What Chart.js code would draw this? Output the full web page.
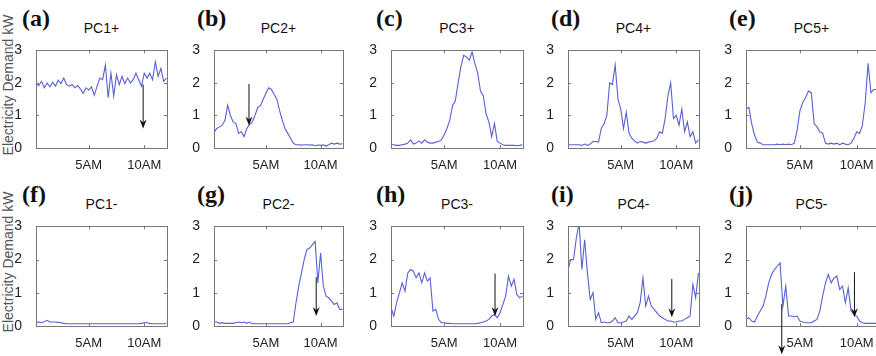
<!DOCTYPE html>
<html>
<head>
<meta charset="utf-8">
<script src="https://cdn.jsdelivr.net/npm/chart.js@4"></script>
<style>
  html, body { margin: 0; padding: 0; background: #fff; }
  body { width: 876px; height: 356px; position: relative; overflow: hidden; font-family: "Liberation Sans", Arial, sans-serif; }
  .panel { position: absolute; }
  .letter { position: absolute; font-family: "Times New Roman", "Liberation Serif", Times, serif; font-weight: 700; font-size: 24px; line-height: 26px; color: #111; }
  .title { position: absolute; font-size: 14px; color: #111; text-align: center; width: 130px; }
  .ylabel { position: absolute; font-size: 14px; color: #555; white-space: nowrap; transform: rotate(-90deg); transform-origin: center center; }
</style>
</head>
<body>
<div class="ylabel" id="ylab1">Electricity Demand kW</div>
<div class="ylabel" id="ylab2">Electricity Demand kW</div>
<script>
// time axis: quarter hours from 0:15 to 12:00
const hours = [];
for (let i = 1; i <= 48; i++) hours.push(i * 0.25);

const xTickValues = [5, 10];
const xTickLabels = ['5AM', '10AM'];
const yTickValues = [0, 1, 2, 3];

const panelLetters = ['(a)', '(b)', '(c)', '(d)', '(e)', '(f)', '(g)', '(h)', '(i)', '(j)'];
const panelTitles = ['PC1+', 'PC2+', 'PC3+', 'PC4+', 'PC5+', 'PC1-', 'PC2-', 'PC3-', 'PC4-', 'PC5-'];

const pc1Plus = [2.0, 1.92, 2.05, 1.85, 2.0, 1.88, 2.02, 1.9, 2.08, 1.98, 2.15, 1.95,
  1.9, 1.95, 1.85, 1.92, 1.82, 1.68, 1.85, 1.78, 1.88, 1.62, 1.9, 2.15,
  2.1, 2.55, 1.55, 2.3, 1.6, 2.25, 1.95, 2.2, 1.98, 2.15, 2.0, 2.1,
  2.3, 2.1, 1.9, 2.3, 2.15, 2.3, 2.1, 2.65, 2.2, 2.45, 2.05, 2.15];
const pc2Plus = [0.47, 0.6, 0.65, 0.7, 0.85, 1.32, 1.0, 0.8, 0.75, 0.45, 0.5, 0.35,
  0.6, 0.72, 0.8, 1.0, 1.25, 1.3, 1.5, 1.68, 1.85, 1.8, 1.65, 1.5,
  1.15, 0.85, 0.6, 0.45, 0.3, 0.15, 0.1, 0.1, 0.09, 0.1, 0.1, 0.09,
  0.1, 0.07, 0.09, 0.08, 0.1, 0.06, 0.1, 0.15, 0.12, 0.15, 0.12, 0.13];
const pc3Plus = [0.1, 0.1, 0.08, 0.08, 0.1, 0.12, 0.15, 0.25, 0.12, 0.15, 0.22, 0.15,
  0.25, 0.18, 0.15, 0.15, 0.18, 0.2, 0.25, 0.4, 0.6, 0.85, 1.3, 1.45,
  2.0, 2.5, 2.85, 2.8, 2.7, 2.95, 2.6, 2.3, 1.75, 1.6, 1.05, 0.8,
  0.35, 0.75, 0.2, 0.15, 0.1, 0.08, 0.08, 0.08, 0.08, 0.07, 0.08, 0.1];
const pc4Plus = [0.1, 0.1, 0.1, 0.1, 0.1, 0.08, 0.12, 0.08, 0.12, 0.2, 0.2, 0.18,
  0.6, 0.75, 1.0, 2.0, 1.95, 2.55, 1.5, 1.2, 0.6, 1.1, 0.45, 0.3,
  0.22, 0.15, 0.2, 0.18, 0.15, 0.18, 0.2, 0.22, 0.3, 0.5, 0.45, 0.9,
  1.6, 2.0, 0.9, 1.0, 0.7, 1.2, 0.5, 0.8, 0.35, 0.5, 0.15, 0.25];
const pc5Plus = [1.2, 1.25, 0.75, 0.4, 0.18, 0.15, 0.1, 0.1, 0.1, 0.1, 0.1, 0.12,
  0.1, 0.12, 0.1, 0.12, 0.1, 0.15, 0.55, 1.15, 1.4, 1.55, 1.75, 1.7,
  0.75, 0.65, 0.5, 0.45, 0.15, 0.12, 0.15, 0.12, 0.15, 0.1, 0.15, 0.12,
  0.1, 0.15, 0.3, 0.5, 0.45, 0.7, 1.4, 2.6, 1.7, 1.8, 1.8, 1.85];
const pc1Minus = [0.11, 0.12, 0.1, 0.13, 0.17, 0.12, 0.12, 0.12, 0.11, 0.1, 0.08, 0.07,
  0.07, 0.07, 0.07, 0.07, 0.07, 0.07, 0.07, 0.07, 0.07, 0.07, 0.07, 0.07,
  0.07, 0.07, 0.07, 0.07, 0.07, 0.07, 0.07, 0.07, 0.07, 0.07, 0.07, 0.07,
  0.07, 0.07, 0.08, 0.1, 0.1, 0.08, 0.07, 0.07, 0.07, 0.07, 0.07, 0.07];
const pc2Minus = [0.12, 0.12, 0.08, 0.1, 0.08, 0.08, 0.08, 0.08, 0.1, 0.12, 0.1, 0.12,
  0.08, 0.12, 0.07, 0.07, 0.07, 0.07, 0.07, 0.07, 0.07, 0.07, 0.07, 0.07,
  0.07, 0.07, 0.07, 0.07, 0.1, 0.12, 0.7, 1.2, 1.6, 2.0, 2.3, 2.35,
  2.45, 2.55, 1.3, 2.2, 1.2, 0.9, 0.85, 0.75, 0.65, 0.7, 0.5, 0.5];
const pc3Minus = [0.55, 0.3, 0.7, 1.0, 1.3, 1.05, 1.6, 1.7, 1.65, 1.45, 1.6, 1.3,
  1.6, 1.35, 1.45, 0.45, 0.5, 0.2, 0.1, 0.1, 0.08, 0.08, 0.07, 0.07,
  0.07, 0.07, 0.07, 0.07, 0.07, 0.07, 0.07, 0.08, 0.1, 0.12, 0.15, 0.2,
  0.3, 0.35, 0.25, 0.4, 0.65, 0.9, 1.5, 1.2, 1.4, 0.95, 0.85, 0.9];
const pc4Minus = [1.7, 2.0, 2.0, 2.65, 3.1, 1.7, 2.6, 1.6, 0.8, 1.0, 0.2, 0.4,
  0.1, 0.12, 0.1, 0.1, 0.15, 0.25, 0.1, 0.1, 0.12, 0.15, 0.3, 0.2,
  0.3, 0.4, 0.7, 1.45, 0.6, 0.9, 0.6, 0.5, 0.4, 0.3, 0.25, 0.2,
  0.15, 0.15, 0.12, 0.12, 0.15, 0.15, 0.2, 0.25, 0.3, 1.25, 0.85, 1.6];
const pc5Minus = [0.2, 0.25, 0.15, 0.12, 0.3, 0.45, 0.6, 0.9, 1.3, 1.55, 1.7, 1.8,
  1.9, 0.6, 1.2, 0.3, 0.3, 0.28, 0.3, 0.15, 0.12, 0.1, 0.1, 0.1,
  0.15, 0.2, 0.45, 0.9, 1.3, 1.55, 1.3, 1.45, 1.5, 1.1, 1.2, 0.7,
  1.15, 0.45, 0.35, 0.3, 0.15, 0.1, 0.08, 0.08, 0.08, 0.08, 0.08, 0.08];

const panelSeries = [pc1Plus, pc2Plus, pc3Plus, pc4Plus, pc5Plus,
  pc1Minus, pc2Minus, pc3Minus, pc4Minus, pc5Minus];

// arrows: [hour, startKW, tipKW] per panel
const panelArrows = [
  [[9.9, 1.95, 0.6]],
  [[3.45, 1.97, 0.69]],
  [], [], [],
  [],
  [[9.6, 1.47, 0.3]],
  [[9.55, 1.58, 0.3]],
  [[9.6, 1.42, 0.26]],
  [[3.4, 0.67, -0.85], [9.8, 1.62, 0.26]]
];

// plot-box geometry (page pixels)
const colLeft = [36, 214, 391, 568, 746];
const colRight = [167, 343, 523, 699, 880];
const rowTop = [42, 218];
const rowBottom = [148, 326];
const letterLeft = [22, 197, 376, 551, 729];

const lineColor = 'rgb(88,96,212)';
const Y_AXIS_W = 22, PAD_TOP = 6, PAD_RIGHT = 6;

const boxPlugin = {
  id: 'matlabBox',
  afterDatasetsDraw(chart) {
    const ctx = chart.ctx, a = chart.chartArea;
    const xs = chart.scales.x, ys = chart.scales.y;
    ctx.save();
    ctx.strokeStyle = '#777';
    ctx.lineWidth = 1;
    ctx.strokeRect(Math.round(a.left) + 0.5, Math.round(a.top) + 0.5,
      Math.round(a.right - a.left), Math.round(a.bottom - a.top));
    ctx.beginPath();
    yTickValues.forEach(v => {
      const py = Math.round(ys.getPixelForValue(v)) + 0.5;
      ctx.moveTo(a.left, py); ctx.lineTo(a.left + 3, py);
      ctx.moveTo(a.right, py); ctx.lineTo(a.right - 3, py);
    });
    xTickValues.forEach(v => {
      const px = Math.round(xs.getPixelForValue(v)) + 0.5;
      ctx.moveTo(px, a.bottom); ctx.lineTo(px, a.bottom - 3);
      ctx.moveTo(px, a.top); ctx.lineTo(px, a.top + 3);
    });
    ctx.stroke();
    // arrows
    const arrows = chart.options.plugins.matlabBox.arrows || [];
    ctx.strokeStyle = '#111';
    ctx.fillStyle = '#111';
    arrows.forEach(([h, y0, y1]) => {
      const px = xs.getPixelForValue(h);
      const p0 = ys.getPixelForValue(y0);
      const p1 = ys.getPixelForValue(y1);
      ctx.beginPath();
      ctx.moveTo(px, p0); ctx.lineTo(px, p1 - 6);
      ctx.stroke();
      ctx.beginPath();
      ctx.moveTo(px, p1);
      ctx.lineTo(px - 3.5, p1 - 9);
      ctx.lineTo(px, p1 - 6);
      ctx.lineTo(px + 3.5, p1 - 9);
      ctx.closePath();
      ctx.fill();
    });
    ctx.restore();
  }
};

function addText(cls, text, left, top) {
  const el = document.createElement('div');
  el.className = cls;
  el.textContent = text;
  el.style.left = left + 'px';
  el.style.top = top + 'px';
  document.body.appendChild(el);
}

function createPanel(idx) {
  const row = Math.floor(idx / 5), col = idx % 5;
  const left = colLeft[col], right = colRight[col];
  const top = rowTop[row], bottom = rowBottom[row];
  const xAxisH = row === 1 ? 34 : 22;

  const wrap = document.createElement('div');
  wrap.className = 'panel';
  const w = (right - left) + Y_AXIS_W + PAD_RIGHT;
  const h = (bottom - top) + PAD_TOP + xAxisH;
  wrap.style.left = (left - Y_AXIS_W) + 'px';
  wrap.style.top = (top - PAD_TOP) + 'px';
  wrap.style.width = w + 'px';
  wrap.style.height = h + 'px';
  const canvas = document.createElement('canvas');
  wrap.appendChild(canvas);
  document.body.appendChild(wrap);

  addText('letter', panelLetters[idx], letterLeft[col], top - 37);
  const tRight = Math.min(right, 877);
  addText('title', panelTitles[idx], (left + tRight) / 2 - 65, top - 22);

  const series = panelSeries[idx];
  new Chart(canvas.getContext('2d'), {
    type: 'line',
    data: {
      datasets: [{
        data: hours.map((hr, i) => ({ x: hr, y: series[i] })),
        borderColor: lineColor,
        borderWidth: 1.1,
        pointRadius: 0,
        tension: 0,
        fill: false
      }]
    },
    options: {
      responsive: true,
      maintainAspectRatio: false,
      animation: false,
      layout: { padding: { top: PAD_TOP, right: PAD_RIGHT, left: 0, bottom: 0 } },
      plugins: {
        legend: { display: false },
        tooltip: { enabled: false },
        matlabBox: { arrows: panelArrows[idx] }
      },
      scales: {
        x: {
          type: 'linear',
          min: 0.25,
          max: 12.05,
          grid: { display: false },
          border: { display: false },
          afterBuildTicks: axis => { axis.ticks = xTickValues.map(v => ({ value: v })); },
          afterFit: axis => { axis.height = xAxisH; },
          ticks: {
            padding: 2,
            maxRotation: 0,
            autoSkip: false,
            color: '#222',
            font: { family: '"Liberation Sans", Arial, sans-serif', size: 13 },
            callback: v => xTickLabels[xTickValues.indexOf(v)]
          }
        },
        y: {
          min: 0,
          max: 3,
          grid: { display: false },
          border: { display: false },
          afterBuildTicks: axis => { axis.ticks = yTickValues.map(v => ({ value: v })); },
          afterFit: axis => { axis.width = Y_AXIS_W; },
          ticks: {
            padding: 6,
            color: '#222',
            font: { family: '"Liberation Sans", Arial, sans-serif', size: 14 }
          }
        }
      }
    },
    plugins: [boxPlugin]
  });
}

for (let i = 0; i < 10; i++) createPanel(i);

// y axis labels for the left column
const yl1 = document.getElementById('ylab1');
const yl2 = document.getElementById('ylab2');
[[yl1, 85], [yl2, 262]].forEach(([el, cy]) => {
  const wdt = el.offsetWidth, hgt = el.offsetHeight;
  el.style.left = (8 - wdt / 2) + 'px';
  el.style.top = (cy - hgt / 2) + 'px';
});
</script>
</body>
</html>
